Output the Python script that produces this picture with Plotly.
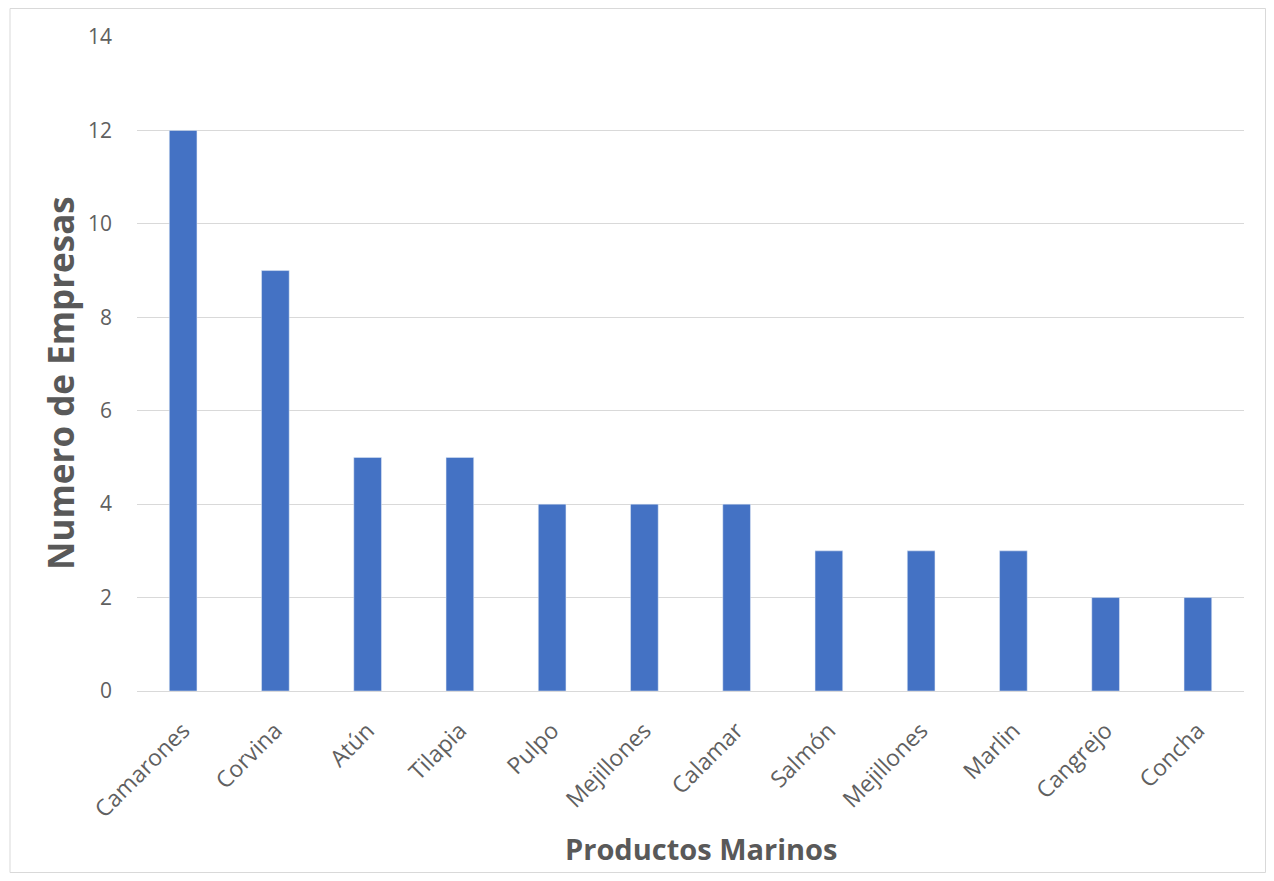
import plotly.graph_objects as go

categories = ["Camarones", "Corvina", "Atún", "Tilapia", "Pulpo", "Mejillones",
              "Calamar", "Salmón", "Mejillones", "Marlin", "Cangrejo", "Concha"]
values = [12, 9, 5, 5, 4, 4, 4, 3, 3, 3, 2, 2]
y_ticks = [0, 2, 4, 6, 8, 10, 12, 14]

# page is offset by 8px body margin
W, H = 1258, 865
L, R, T, B = 129, 22, 29, 182
pw, ph = W - L - R, H - T - B

positions = list(range(len(categories)))

fig = go.Figure(go.Bar(
    x=positions, y=values, marker_color="#4472C4", width=0.3,
))

font_fam = "Open Sans, Noto Sans, sans-serif"
grey = "#595959"
fig.update_layout(
    width=W, height=H,
    margin=dict(l=L, r=R, t=T, b=B),
    paper_bgcolor="white", plot_bgcolor="white",
    showlegend=False,
    font=dict(family=font_fam, color=grey, size=21),
    xaxis=dict(
        tickmode="array", tickvals=positions, ticktext=categories,
        range=[-0.5, len(categories) - 0.5], tickangle=-45,
        showgrid=False, showline=True, linecolor="#D9D9D9", linewidth=1,
        ticks="", tickfont=dict(size=23, color="#606060"),
        ticklabelstandoff=16,
        zeroline=False,
    ),
    yaxis=dict(
        range=[0, 14], tickvals=y_ticks, showgrid=True, gridcolor="#D9D9D9", gridwidth=1,
        zeroline=False, showline=False, ticks="",
        tickfont=dict(size=21, color="#606060"),
        ticklabelstandoff=24,
    ),
)

fig.add_annotation(text="<b>Productos Marinos</b>", xref="paper", yref="paper",
                   x=(701 - 8 - L) / pw, y=-(H - 3 - T - ph) / ph, showarrow=False,
                   font=dict(size=29, color=grey), xanchor="center", yanchor="bottom")
fig.add_annotation(text="<b>Numero de Empresas</b>", xref="paper", yref="paper",
                   x=(60 - 8 - L) / pw, y=1 - (383 - 8 - T) / ph, showarrow=False, textangle=-90,
                   font=dict(size=35, color=grey), xanchor="center", yanchor="middle")

fig.add_shape(type="rect", xref="paper", yref="paper",
              x0=(2 - L) / pw, x1=(W - 0.5 - L) / pw,
              y0=-(H - 0.5 - T - ph) / ph, y1=1 + (T - 0.5) / ph,
              line=dict(color="#D9D9D9", width=1), fillcolor="rgba(0,0,0,0)", layer="below")

fig.write_html("out.html")
